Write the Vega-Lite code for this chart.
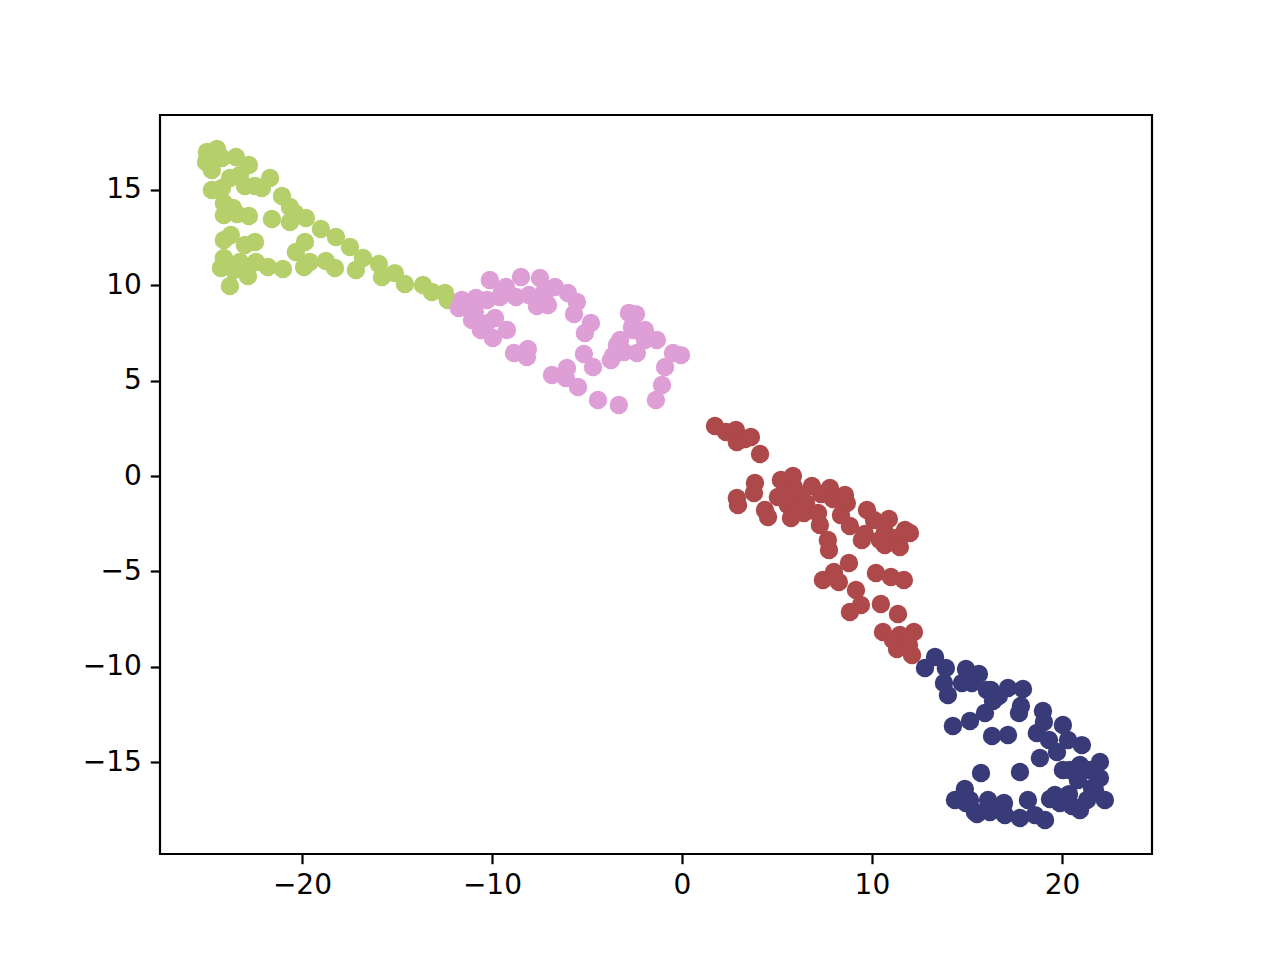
{
"$schema": "https://vega.github.io/schema/vega-lite/v6.json",
"autosize": {"type": "none"},
"padding": {"left": 160, "top": 115, "right": 128, "bottom": 106},
"width": 992,
"height": 739,
"background": "white",
"config": {"view": {"stroke": "black", "strokeWidth": 2.2}, "font": "DejaVu Sans"},
"datasets": {
"pts": [
{"x":-25.0,"y":16.99,"c":"a"},{"x":-24.47,"y":17.15,"c":"a"},{"x":-25.05,"y":16.47,"c":"a"},{"x":-24.74,"y":16.05,"c":"a"},{"x":-24.21,"y":16.68,"c":"a"},{"x":-23.47,"y":16.73,"c":"a"},{"x":-22.79,"y":16.31,"c":"a"},{"x":-21.68,"y":15.63,"c":"a"},{"x":-22.11,"y":15.10,"c":"a"},{"x":-22.47,"y":15.21,"c":"a"},{"x":-23.0,"y":15.21,"c":"a"},{"x":-23.79,"y":15.63,"c":"a"},{"x":-23.26,"y":15.78,"c":"a"},{"x":-24.74,"y":15.0,"c":"a"},{"x":-24.21,"y":15.10,"c":"a"},{"x":-24.11,"y":14.32,"c":"a"},{"x":-23.63,"y":14.05,"c":"a"},{"x":-24.11,"y":13.69,"c":"a"},{"x":-22.79,"y":13.63,"c":"a"},{"x":-23.42,"y":13.74,"c":"a"},{"x":-21.05,"y":14.68,"c":"a"},{"x":-21.58,"y":13.48,"c":"a"},{"x":-20.63,"y":14.11,"c":"a"},{"x":-20.37,"y":13.79,"c":"a"},{"x":-20.63,"y":13.32,"c":"a"},{"x":-19.79,"y":13.53,"c":"a"},{"x":-19.0,"y":12.95,"c":"a"},{"x":-18.21,"y":12.53,"c":"a"},{"x":-17.47,"y":12.01,"c":"a"},{"x":-19.84,"y":12.27,"c":"a"},{"x":-20.32,"y":11.75,"c":"a"},{"x":-19.58,"y":11.22,"c":"a"},{"x":-19.89,"y":10.96,"c":"a"},{"x":-18.74,"y":11.27,"c":"a"},{"x":-18.26,"y":10.91,"c":"a"},{"x":-24.11,"y":12.38,"c":"a"},{"x":-23.74,"y":12.64,"c":"a"},{"x":-22.47,"y":12.27,"c":"a"},{"x":-23.0,"y":12.11,"c":"a"},{"x":-24.11,"y":11.43,"c":"a"},{"x":-24.26,"y":10.91,"c":"a"},{"x":-23.58,"y":10.80,"c":"a"},{"x":-22.84,"y":10.49,"c":"a"},{"x":-21.79,"y":10.96,"c":"a"},{"x":-21.0,"y":10.85,"c":"a"},{"x":-16.79,"y":11.43,"c":"a"},{"x":-15.95,"y":11.12,"c":"a"},{"x":-17.16,"y":10.80,"c":"a"},{"x":-15.79,"y":10.44,"c":"a"},{"x":-15.11,"y":10.64,"c":"a"},{"x":-14.58,"y":10.07,"c":"a"},{"x":-13.63,"y":10.02,"c":"a"},{"x":-13.16,"y":9.65,"c":"a"},{"x":-12.47,"y":9.60,"c":"a"},{"x":-23.79,"y":9.96,"c":"a"},{"x":-12.32,"y":9.23,"c":"a"},{"x":-23.26,"y":11.22,"c":"a"},{"x":-22.42,"y":11.22,"c":"a"},
{"x":-10.11,"y":10.28,"c":"b"},{"x":-9.26,"y":9.91,"c":"b"},{"x":-8.47,"y":10.44,"c":"b"},{"x":-7.47,"y":10.38,"c":"b"},{"x":-6.68,"y":9.91,"c":"b"},{"x":-7.21,"y":9.60,"c":"b"},{"x":-6.0,"y":9.60,"c":"b"},{"x":-5.53,"y":9.12,"c":"b"},{"x":-11.58,"y":9.23,"c":"b"},{"x":-10.84,"y":9.33,"c":"b"},{"x":-11.42,"y":8.86,"c":"b"},{"x":-11.05,"y":8.18,"c":"b"},{"x":-10.26,"y":9.23,"c":"b"},{"x":-9.47,"y":9.65,"c":"b"},{"x":-8.74,"y":9.39,"c":"b"},{"x":-9.84,"y":8.29,"c":"b"},{"x":-10.58,"y":7.66,"c":"b"},{"x":-9.95,"y":7.24,"c":"b"},{"x":-9.21,"y":7.66,"c":"b"},{"x":-7.63,"y":8.91,"c":"b"},{"x":-7.05,"y":8.97,"c":"b"},{"x":-5.68,"y":8.49,"c":"b"},{"x":-4.79,"y":8.02,"c":"b"},{"x":-5.11,"y":7.50,"c":"b"},{"x":-8.84,"y":6.45,"c":"b"},{"x":-8.11,"y":6.66,"c":"b"},{"x":-8.16,"y":6.24,"c":"b"},{"x":-6.84,"y":5.30,"c":"b"},{"x":-6.11,"y":5.14,"c":"b"},{"x":-6.05,"y":5.66,"c":"b"},{"x":-5.47,"y":4.67,"c":"b"},{"x":-5.16,"y":6.40,"c":"b"},{"x":-4.68,"y":5.72,"c":"b"},{"x":-4.42,"y":3.99,"c":"b"},{"x":-3.32,"y":3.72,"c":"b"},{"x":-1.37,"y":3.99,"c":"b"},{"x":-1.05,"y":4.77,"c":"b"},{"x":-0.89,"y":5.72,"c":"b"},{"x":-0.47,"y":6.45,"c":"b"},{"x":-0.05,"y":6.34,"c":"b"},{"x":-1.32,"y":7.13,"c":"b"},{"x":-1.95,"y":7.66,"c":"b"},{"x":-2.63,"y":7.81,"c":"b"},{"x":-2.79,"y":8.55,"c":"b"},{"x":-2.42,"y":8.49,"c":"b"},{"x":-3.42,"y":6.87,"c":"b"},{"x":-3.63,"y":6.29,"c":"b"},{"x":-3.05,"y":6.50,"c":"b"},{"x":-3.74,"y":6.08,"c":"b"},{"x":-2.37,"y":6.45,"c":"b"},{"x":-2.58,"y":7.66,"c":"b"},{"x":-3.26,"y":7.13,"c":"b"},{"x":-9.58,"y":9.39,"c":"b"},{"x":-8.05,"y":9.49,"c":"b"},{"x":-7.21,"y":9.75,"c":"b"},{"x":-1.95,"y":7.13,"c":"b"},{"x":-11.74,"y":8.81,"c":"b"},{"x":-10.9,"y":8.6,"c":"b"},{"x":-10.3,"y":8.0,"c":"b"},
{"x":1.74,"y":2.62,"c":"c"},{"x":2.32,"y":2.31,"c":"c"},{"x":2.84,"y":2.41,"c":"c"},{"x":3.05,"y":1.99,"c":"c"},{"x":3.32,"y":1.94,"c":"c"},{"x":3.63,"y":2.05,"c":"c"},{"x":2.89,"y":1.78,"c":"c"},{"x":4.11,"y":1.15,"c":"c"},{"x":2.89,"y":-1.15,"c":"c"},{"x":2.95,"y":-1.52,"c":"c"},{"x":3.84,"y":-0.37,"c":"c"},{"x":3.79,"y":-0.89,"c":"c"},{"x":4.37,"y":-1.78,"c":"c"},{"x":4.53,"y":-2.15,"c":"c"},{"x":5.21,"y":-0.21,"c":"c"},{"x":5.84,"y":0.0,"c":"c"},{"x":5.89,"y":-0.58,"c":"c"},{"x":5.05,"y":-1.10,"c":"c"},{"x":5.58,"y":-1.52,"c":"c"},{"x":5.74,"y":-2.20,"c":"c"},{"x":6.42,"y":-1.94,"c":"c"},{"x":6.53,"y":-1.42,"c":"c"},{"x":6.84,"y":-0.52,"c":"c"},{"x":7.32,"y":-0.94,"c":"c"},{"x":7.79,"y":-0.63,"c":"c"},{"x":7.95,"y":-1.21,"c":"c"},{"x":8.37,"y":-1.31,"c":"c"},{"x":8.68,"y":-1.42,"c":"c"},{"x":7.16,"y":-1.94,"c":"c"},{"x":7.26,"y":-2.57,"c":"c"},{"x":7.68,"y":-3.36,"c":"c"},{"x":7.74,"y":-3.88,"c":"c"},{"x":7.42,"y":-5.45,"c":"c"},{"x":8.0,"y":-5.03,"c":"c"},{"x":8.26,"y":-5.56,"c":"c"},{"x":8.84,"y":-2.62,"c":"c"},{"x":9.47,"y":-3.36,"c":"c"},{"x":9.63,"y":-3.04,"c":"c"},{"x":9.74,"y":-1.78,"c":"c"},{"x":10.11,"y":-2.31,"c":"c"},{"x":10.42,"y":-3.36,"c":"c"},{"x":10.68,"y":-2.94,"c":"c"},{"x":10.89,"y":-2.25,"c":"c"},{"x":11.26,"y":-3.25,"c":"c"},{"x":11.47,"y":-3.72,"c":"c"},{"x":11.74,"y":-2.83,"c":"c"},{"x":12.0,"y":-2.99,"c":"c"},{"x":10.68,"y":-3.62,"c":"c"},{"x":10.21,"y":-5.09,"c":"c"},{"x":11.0,"y":-5.30,"c":"c"},{"x":11.68,"y":-5.45,"c":"c"},{"x":8.79,"y":-4.56,"c":"c"},{"x":9.16,"y":-5.98,"c":"c"},{"x":9.42,"y":-6.76,"c":"c"},{"x":8.84,"y":-7.13,"c":"c"},{"x":10.47,"y":-6.71,"c":"c"},{"x":10.58,"y":-8.18,"c":"c"},{"x":11.37,"y":-7.24,"c":"c"},{"x":11.47,"y":-8.34,"c":"c"},{"x":11.32,"y":-9.07,"c":"c"},{"x":11.95,"y":-8.86,"c":"c"},{"x":12.21,"y":-8.18,"c":"c"},{"x":12.11,"y":-9.39,"c":"c"},{"x":11.11,"y":-8.60,"c":"c"},{"x":6.21,"y":-1.10,"c":"c"},{"x":6.11,"y":-1.78,"c":"c"},{"x":8.37,"y":-2.05,"c":"c"},{"x":8.58,"y":-1.0,"c":"c"},{"x":5.53,"y":-0.94,"c":"c"},
{"x":12.79,"y":-10.07,"c":"d"},{"x":13.32,"y":-9.49,"c":"d"},{"x":13.89,"y":-10.07,"c":"d"},{"x":13.79,"y":-10.85,"c":"d"},{"x":14.0,"y":-11.48,"c":"d"},{"x":14.74,"y":-10.85,"c":"d"},{"x":14.95,"y":-10.12,"c":"d"},{"x":15.63,"y":-10.38,"c":"d"},{"x":15.26,"y":-10.85,"c":"d"},{"x":16.05,"y":-11.22,"c":"d"},{"x":16.68,"y":-11.54,"c":"d"},{"x":16.37,"y":-11.80,"c":"d"},{"x":15.95,"y":-12.43,"c":"d"},{"x":14.26,"y":-13.11,"c":"d"},{"x":15.16,"y":-12.85,"c":"d"},{"x":16.32,"y":-13.63,"c":"d"},{"x":17.16,"y":-13.58,"c":"d"},{"x":17.16,"y":-11.12,"c":"d"},{"x":17.84,"y":-12.06,"c":"d"},{"x":17.74,"y":-12.43,"c":"d"},{"x":17.95,"y":-11.17,"c":"d"},{"x":19.0,"y":-12.32,"c":"d"},{"x":19.05,"y":-12.90,"c":"d"},{"x":18.68,"y":-13.48,"c":"d"},{"x":19.32,"y":-13.84,"c":"d"},{"x":20.05,"y":-13.06,"c":"d"},{"x":20.32,"y":-13.84,"c":"d"},{"x":19.74,"y":-14.47,"c":"d"},{"x":21.05,"y":-14.11,"c":"d"},{"x":18.84,"y":-14.79,"c":"d"},{"x":20.42,"y":-15.42,"c":"d"},{"x":20.95,"y":-15.15,"c":"d"},{"x":21.47,"y":-15.42,"c":"d"},{"x":22.0,"y":-15.0,"c":"d"},{"x":22.0,"y":-15.84,"c":"d"},{"x":21.58,"y":-16.36,"c":"d"},{"x":20.84,"y":-15.94,"c":"d"},{"x":20.37,"y":-16.68,"c":"d"},{"x":19.37,"y":-16.94,"c":"d"},{"x":19.89,"y":-17.15,"c":"d"},{"x":20.53,"y":-17.30,"c":"d"},{"x":20.95,"y":-17.51,"c":"d"},{"x":22.26,"y":-16.99,"c":"d"},{"x":17.79,"y":-15.52,"c":"d"},{"x":15.74,"y":-15.57,"c":"d"},{"x":14.37,"y":-16.99,"c":"d"},{"x":14.89,"y":-16.41,"c":"d"},{"x":15.16,"y":-16.99,"c":"d"},{"x":15.42,"y":-17.62,"c":"d"},{"x":16.11,"y":-16.99,"c":"d"},{"x":16.21,"y":-17.62,"c":"d"},{"x":16.95,"y":-17.15,"c":"d"},{"x":17.0,"y":-17.78,"c":"d"},{"x":17.79,"y":-17.93,"c":"d"},{"x":18.21,"y":-16.99,"c":"d"},{"x":18.58,"y":-17.78,"c":"d"},{"x":19.11,"y":-18.04,"c":"d"},{"x":19.63,"y":-16.73,"c":"d"},{"x":21.32,"y":-16.99,"c":"d"},{"x":21.74,"y":-16.47,"c":"d"},{"x":20.05,"y":-15.42,"c":"d"},{"x":15.53,"y":-17.72,"c":"d"},{"x":14.95,"y":-17.15,"c":"d"},{"x":16.89,"y":-17.51,"c":"d"},{"x":16.26,"y":-11.22,"c":"d"}
]
},
"data": {"name": "pts"},
"mark": {"type": "circle", "size": 340, "opacity": 1},
"encoding": {
"x": {"field": "x", "type": "quantitative", "scale": {"domain": [-27.47, 24.74], "nice": false, "zero": false},
 "axis": {"title": null, "values": [-20, -10, 0, 10, 20], "format": "d", "grid": false, "domain": false, "tickColor": "black", "tickSize": 9.7, "tickWidth": 2.2, "labelColor": "black", "labelFontSize": 28, "labelPadding": 8, "labelFont": "DejaVu Sans"}},
"y": {"field": "y", "type": "quantitative", "scale": {"domain": [-19.82, 18.93], "nice": false, "zero": false},
 "axis": {"title": null, "values": [-15, -10, -5, 0, 5, 10, 15], "format": "d", "grid": false, "domain": false, "tickColor": "black", "tickSize": 9.7, "tickWidth": 2.2, "labelColor": "black", "labelFontSize": 28, "labelPadding": 9, "labelFont": "DejaVu Sans"}},
"color": {"field": "c", "type": "nominal", "legend": null, "scale": {"domain": ["a", "b", "c", "d"], "range": ["#b5cf6b", "#de9ed6", "#ad494a", "#393b79"]}}
}
}
